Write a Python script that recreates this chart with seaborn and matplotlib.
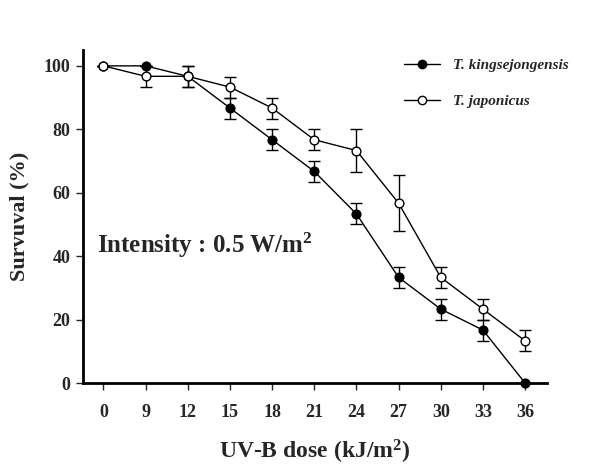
import matplotlib
matplotlib.use("Agg")
import matplotlib.pyplot as plt
import seaborn as sns
import pandas as pd
import numpy as np
from matplotlib.lines import Line2D

doses = ["0", "9", "12", "15", "18", "21", "24", "27", "30", "33", "36"]
king_mean = [100, 100, 96.7, 86.7, 76.7, 66.7, 53.3, 33.3, 23.3, 16.7, 0]
king_err = [0, 0, 3.3, 3.3, 3.3, 3.3, 3.3, 3.3, 3.3, 3.3, 0]
jap_mean = [100, 96.7, 96.7, 93.3, 86.7, 76.7, 73.3, 56.7, 33.3, 23.3, 13.3]
jap_err = [0, 3.3, 3.3, 3.3, 3.3, 3.3, 6.7, 8.8, 3.3, 3.3, 3.3]

sns.set_theme(style="ticks")
plt.rcParams['font.family'] = ['Liberation Serif', 'DejaVu Serif']
plt.rcParams['mathtext.fontset'] = 'custom'
plt.rcParams['mathtext.rm'] = 'Liberation Serif'
plt.rcParams['mathtext.bf'] = 'Liberation Serif:bold'
plt.rcParams['mathtext.it'] = 'Liberation Serif:italic'

pos = np.arange(len(doses))
df = pd.DataFrame({
    "pos": np.concatenate([pos, pos]),
    "surv": king_mean + jap_mean,
    "species": ["T. kingsejongensis"] * len(doses) + ["T. japonicus"] * len(doses),
})

fig = plt.figure(figsize=(5.91, 4.67), dpi=100)
ax = fig.add_axes([83 / 591, 84 / 467, 464 / 591, 333 / 467])

ax.errorbar(pos, king_mean, yerr=king_err, fmt="none", ecolor="black", elinewidth=1, capsize=4, capthick=1, zorder=2)
ax.errorbar(pos, jap_mean, yerr=jap_err, fmt="none", ecolor="black", elinewidth=1, capsize=4, capthick=1, zorder=2)

sns.lineplot(data=df, x="pos", y="surv", hue="species", style="species",
             palette={"T. kingsejongensis": "black", "T. japonicus": "black"},
             dashes=False, markers={"T. kingsejongensis": "o", "T. japonicus": "o"},
             markersize=6.3, linewidth=1, ax=ax, legend=False, zorder=3)
data_lines = [l for l in ax.get_lines() if len(l.get_xdata()) == len(doses)]
if len(data_lines) >= 2:
    data_lines[-2].set_markerfacecolor("black")
    data_lines[-2].set_markeredgecolor("black")
    data_lines[-1].set_markerfacecolor("white")
    data_lines[-1].set_markeredgecolor("black")
    for l in data_lines[-2:]:
        l.set_markeredgewidth(1)
        l.set_clip_on(False)

handles = [
    Line2D([], [], color="black", lw=1, marker="o", markersize=6, markerfacecolor="black", markeredgecolor="black"),
    Line2D([], [], color="black", lw=1, marker="o", markersize=6, markerfacecolor="white", markeredgecolor="black"),
]
leg = ax.legend(handles, ["T. kingsejongensis", "T. japonicus"], loc="upper left",
                bbox_to_anchor=(0.663, 1.015), frameon=False, handlelength=2.3, handletextpad=0.9,
                labelspacing=1.45, prop={"family": "Liberation Serif", "style": "italic", "weight": "bold", "size": 11})

ax.set_xlim(-0.486, 10.52)
ax.set_ylim(0, 105)
ax.set_xticks(pos)
ax.set_xticklabels(doses)
ax.set_yticks([0, 20, 40, 60, 80, 100])
for lab in ax.get_xticklabels() + ax.get_yticklabels():
    lab.set_fontweight("bold")
    lab.set_fontsize(13)
ax.tick_params(axis="x", length=5, width=1, pad=10, direction="out")
ax.tick_params(axis="y", length=5, width=1, pad=4, direction="out")

for s in ["top", "right"]:
    ax.spines[s].set_visible(False)
for s in ["left", "bottom"]:
    ax.spines[s].set_linewidth(2)
    ax.spines[s].set_color("black")

ax.set_xlabel("UV-B dose (kJ/m$\\mathbf{^2}$)", fontsize=17, fontweight="bold", labelpad=12)
ax.set_ylabel("Survuval (%)", fontsize=16, fontweight="bold")
ax.yaxis.set_label_coords(-0.116, 0.5)

fig.text(97 / 591, (467 - 253) / 467, "Intensity : 0.5 W/m$\\mathbf{^2}$",
         fontsize=18, fontweight="bold", ha="left", va="baseline")

fig.savefig("out.png", dpi=100, facecolor="white")
